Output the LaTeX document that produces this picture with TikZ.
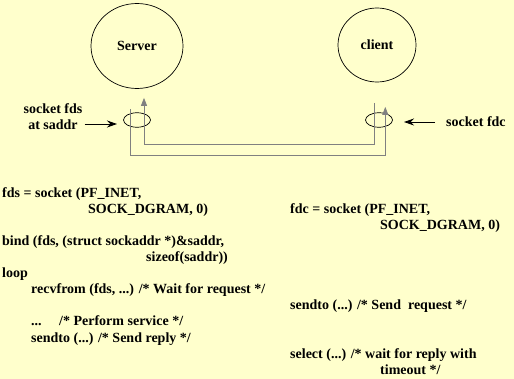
\documentclass[tikz,border=0pt]{standalone}
\usepackage{fontspec}
\setmainfont{Liberation Serif}
\usetikzlibrary{arrows.meta,shapes.geometric}
\definecolor{paper}{HTML}{FFFFCC}
\definecolor{wire}{HTML}{808080}

\begin{document}
\begin{tikzpicture}[
  x=1pt, y=-1pt,
  font=\fontsize{14}{16}\selectfont\bfseries,
  unit/.style={draw, ellipse, line width=0.7pt, inner sep=0pt},
  socket/.style={draw, ellipse, line width=0.7pt, inner sep=0pt, minimum width=27pt, minimum height=14.5pt},
  codeline/.style={anchor=base west, inner sep=0pt},
  msg/.style={-{Triangle[length=8pt,width=6pt]}, line width=0.8pt, draw=wire},
  ptr/.style={-{Stealth[length=10pt,width=7pt]}, line width=0.9pt}
]
\useasboundingbox[fill=paper] (0,0) rectangle (514,379);

\node[unit, minimum width=92pt, minimum height=85pt] (server) at (137,46) {Server};
\node[unit, minimum width=78pt, minimum height=74pt] (client) at (377,45) {client};
\node[socket] (sock_s) at (137,120) {};
\node[socket] (sock_c) at (379,120) {};

\node[align=center, inner sep=0pt] (fdslabel) at (53,117) {socket fds\\at saddr};
\node[anchor=west, inner sep=0pt] (fdclabel) at (446,122) {socket fdc};
\coordinate (fdstip) at (117,124);
\coordinate (fdctip) at (404,122);
\draw[ptr] (fdslabel.east |- fdstip) ++(2,0) -- (fdstip);
\draw[ptr] ([xshift=-11pt]fdclabel.west) -- (fdctip);

% request and reply paths
\draw[msg] ([xshift=-5pt,yshift=9.5pt]sock_c.north) -- ++(0,42) -| ([xshift=7pt,yshift=-9pt]server.south);
\draw[msg] ([xshift=-7pt,yshift=3pt]sock_s.north) -- ++(0,45.7) -| ([xshift=6.3pt,yshift=5.5pt]sock_c.north);

% server code
\node[codeline] (fdsline) at (2,198) {fds = socket (PF\_INET,};
\node[codeline] (fdsargs) at (88,214) {SOCK\_DGRAM, 0)};
\node[codeline] (bindline) at (2,246) {bind (fds, (struct sockaddr *)\&saddr,};
\node[codeline] (bindargs) at (146,262) {sizeof(saddr))};
\node[codeline] (loopkw) at (2,278) {loop};
\node[codeline] (recvline) at (31,294) {recvfrom (fds, ...) /* Wait for request */};
\node[codeline] (servdots) at (31,326) {...};
\node[codeline] (servline) at (59,326) {/* Perform service */};
\node[codeline] (replyline) at (31,342) {sendto (...) /* Send reply */};

% client code
\node[codeline] (fdcline) at (290,214) {fdc = socket (PF\_INET,};
\node[codeline] (fdcargs) at (380,230) {SOCK\_DGRAM, 0)};
\node[codeline] (reqline) at (290,310) {sendto (...) /* Send\ \ request */};
\node[codeline] (selline) at (290,358) {select (...) /* wait for reply with};
\node[codeline] (selargs) at (380,374) {timeout */};

\end{tikzpicture}
\end{document}
